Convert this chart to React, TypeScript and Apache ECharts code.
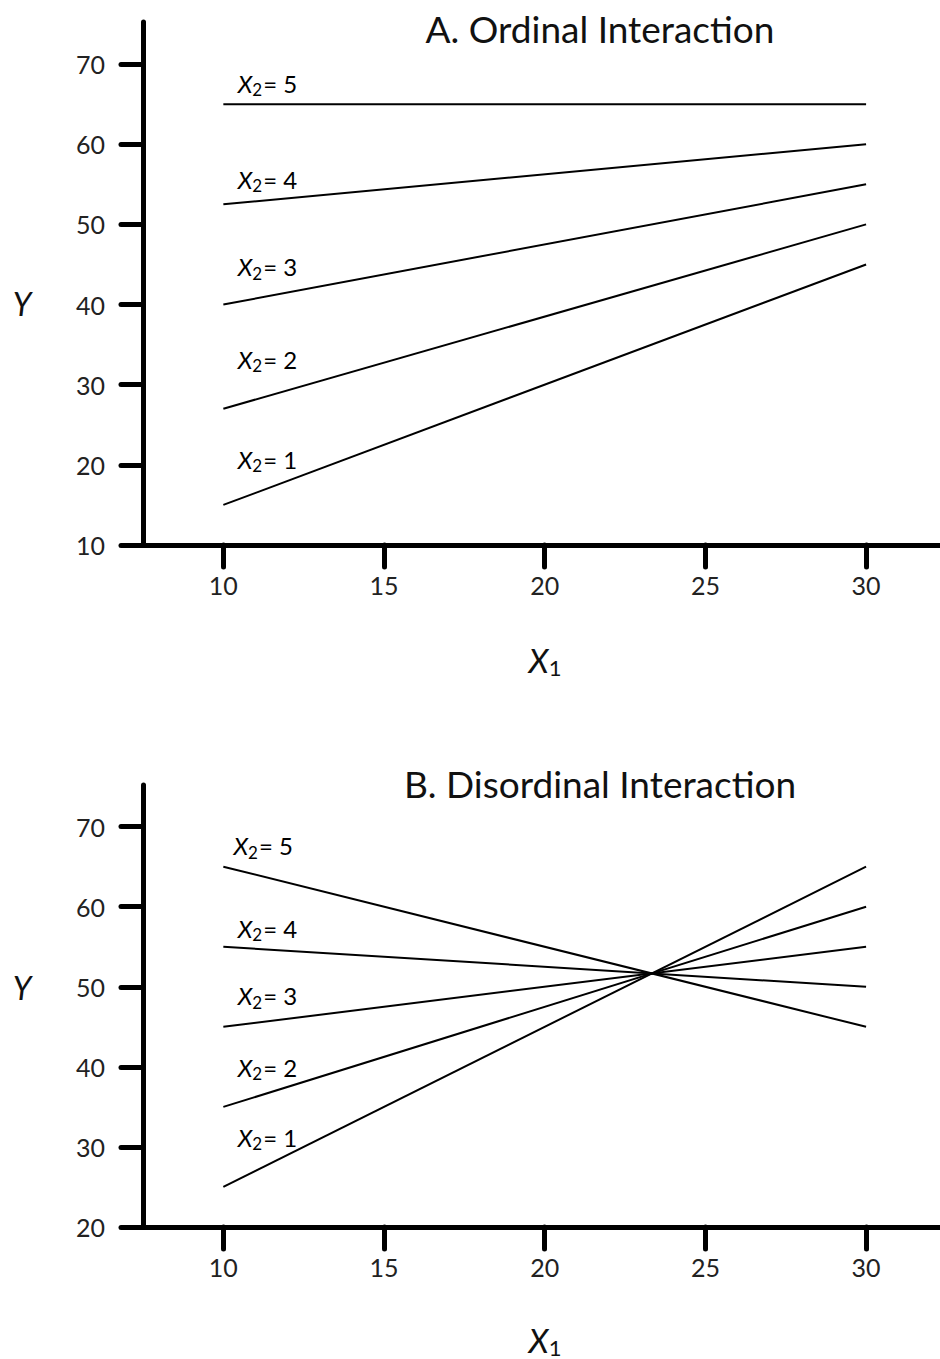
import React, { useEffect, useRef } from "react";
import * as echarts from "echarts";

// ---- data ----
const xEnds = [10, 30];
const groupLabels = ["1", "2", "3", "4", "5"];
const ordinalStart = [15, 27, 40, 52.5, 65];
const ordinalEnd = [45, 50, 55, 60, 65];
const disordinalStart = [25, 35, 45, 55, 65];
const disordinalEnd = [65, 60, 55, 50, 45];
const xTickValues = [10, 15, 20, 25, 30];
const ordinalYTicks = [10, 20, 30, 40, 50, 60, 70];
const disordinalYTicks = [20, 30, 40, 50, 60, 70];
// label anchor points (data coordinates)
const ordinalLabelX = [10.43, 10.43, 10.43, 10.43, 10.43];
const ordinalLabelY = [20.7, 33.2, 44.7, 55.65, 67.6];
const disordinalLabelX = [10.43, 10.43, 10.43, 10.43, 10.3];
const disordinalLabelY = [31.2, 39.95, 48.9, 57.3, 67.6];
const titles = ["A. Ordinal Interaction", "B. Disordinal Interaction"];

const FONT = "Lato";
const INK = "#000";

function lineSeries(starts: number[], ends: number[], idx: number) {
  return starts.map((s, i) => ({
    type: "line",
    name: "X2 = " + groupLabels[i] + (idx === 0 ? " (A)" : " (B)"),
    xAxisIndex: idx,
    yAxisIndex: idx,
    data: [
      [xEnds[0], s],
      [xEnds[1], ends[i]],
    ],
    symbol: "none",
    silent: true,
    lineStyle: { color: "#000", width: 2 },
  }));
}

function labelSeries(xs: number[], ys: number[], idx: number) {
  return {
    type: "scatter",
    xAxisIndex: idx,
    yAxisIndex: idx,
    symbolSize: 1,
    silent: true,
    itemStyle: { color: "rgba(0,0,0,0)" },
    data: xs.map((x, i) => ({ value: [x, ys[i]], name: groupLabels[i] })),
    label: {
      show: true,
      position: "right",
      distance: 0,
      color: INK,
      opacity: 1,
      lineHeight: 30,
      formatter: (p: any) => `{x|X}{s|2}{t|= ${p.name}}`,
      rich: {
        x: { fontFamily: FONT, fontStyle: "italic", fontSize: 24, color: INK, lineHeight: 30 },
        s: { fontFamily: FONT, fontSize: 17, color: INK, padding: [13, 1, 0, 0], lineHeight: 30 },
        t: { fontFamily: FONT, fontSize: 24, color: INK, lineHeight: 30 },
      },
    },
  };
}

function xAxisOpt(idx: number) {
  return {
    type: "value",
    gridIndex: idx,
    min: 7.5,
    max: 32.3,
    axisLine: { show: true, lineStyle: { color: "#000", width: 5, cap: "round" } },
    axisTick: {
      show: true,
      length: 22,
      customValues: xTickValues,
      lineStyle: { color: "#000", width: 5, cap: "round" },
    },
    axisLabel: {
      customValues: xTickValues,
      margin: 27,
      fontFamily: FONT,
      fontSize: 25,
      color: "#222",
    },
    splitLine: { show: false },
  };
}

function yAxisOpt(idx: number, min: number, max: number, ticks: number[]) {
  return {
    type: "value",
    gridIndex: idx,
    min,
    max,
    axisLine: { show: true, lineStyle: { color: "#000", width: 5, cap: "round" } },
    axisTick: {
      show: true,
      length: 22,
      customValues: ticks,
      lineStyle: { color: "#000", width: 5, cap: "round" },
    },
    axisLabel: {
      customValues: ticks,
      margin: 38,
      fontFamily: FONT,
      fontSize: 25,
      color: "#222",
    },
    splitLine: { show: false },
  };
}

export default function App() {
  const ref = useRef<HTMLDivElement>(null);
  useEffect(() => {
    if (!ref.current) return;
    const chart = echarts.init(ref.current, null, { renderer: "svg" });
    const option: any = {
      animation: false,
      backgroundColor: "#fff",
      grid: [
        { left: 143, top: 22, width: 797, height: 523 },
        { left: 143, top: 785, width: 797, height: 442 },
      ],
      xAxis: [xAxisOpt(0), xAxisOpt(1)],
      yAxis: [
        yAxisOpt(0, 10, 75.25, ordinalYTicks),
        yAxisOpt(1, 20, 75.2, disordinalYTicks),
      ],
      series: [
        ...lineSeries(ordinalStart, ordinalEnd, 0),
        ...lineSeries(disordinalStart, disordinalEnd, 1),
        labelSeries(ordinalLabelX, ordinalLabelY, 0),
        labelSeries(disordinalLabelX, disordinalLabelY, 1),
      ],
      graphic: [
        {
          type: "text",
          x: 600,
          y: 28,
          style: { text: titles[0], align: "center", verticalAlign: "middle", fontFamily: FONT, fontSize: 37, fill: "#111" },
        },
        {
          type: "text",
          x: 600,
          y: 783,
          style: { text: titles[1], align: "center", verticalAlign: "middle", fontFamily: FONT, fontSize: 37, fill: "#111" },
        },
        {
          type: "text",
          x: 22,
          y: 303,
          style: { text: "Y", align: "center", verticalAlign: "middle", fontFamily: FONT, fontStyle: "italic", fontSize: 32, fill: "#111" },
        },
        {
          type: "text",
          x: 22,
          y: 987,
          style: { text: "Y", align: "center", verticalAlign: "middle", fontFamily: FONT, fontStyle: "italic", fontSize: 32, fill: "#111" },
        },
        {
          type: "text",
          x: 545,
          y: 660,
          style: {
            text: "{x|X}{s|1}",
            align: "center",
            verticalAlign: "middle",
            rich: {
              x: { fontFamily: FONT, fontStyle: "italic", fontSize: 33, fill: "#111", lineHeight: 40 },
              s: { fontFamily: FONT, fontSize: 22, fill: "#111", padding: [14, 0, 0, 0], lineHeight: 40 },
            },
          },
        },
        {
          type: "text",
          x: 545,
          y: 1340,
          style: {
            text: "{x|X}{s|1}",
            align: "center",
            verticalAlign: "middle",
            rich: {
              x: { fontFamily: FONT, fontStyle: "italic", fontSize: 33, fill: "#111", lineHeight: 40 },
              s: { fontFamily: FONT, fontSize: 22, fill: "#111", padding: [14, 0, 0, 0], lineHeight: 40 },
            },
          },
        },
      ],
    };
    chart.setOption(option);
    return () => chart.dispose();
  }, []);
  return (
    <div
      ref={ref}
      style={{ position: "absolute", left: 0, top: 0, width: 940, height: 1359, background: "#fff" }}
    />
  );
}
